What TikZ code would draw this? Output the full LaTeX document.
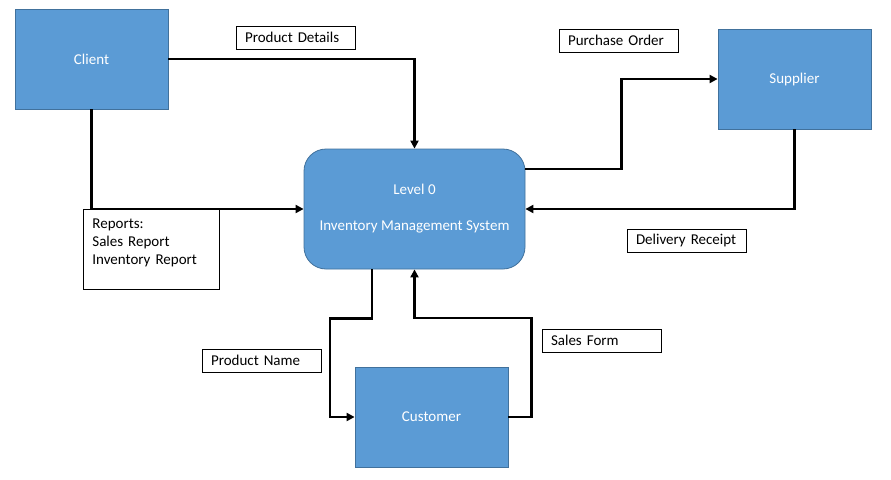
\documentclass[tikz,border=0pt]{standalone}
\usepackage{fontspec}
\setmainfont{Carlito}
\usetikzlibrary{arrows.meta,positioning}
\definecolor{boxblue}{HTML}{5B9BD5}
\definecolor{edgeblue}{HTML}{41719C}
\newcommand{\dfdfont}{\fontsize{15}{18}\selectfont}
\tikzset{entity/.style={draw=edgeblue,fill=boxblue,line width=0.8pt,
  minimum width=153pt,minimum height=100pt,text=white,font=\dfdfont},
  process/.style={entity,rounded corners=22pt,minimum width=221pt,
  minimum height=120pt,align=center},
  flowlabel/.style={draw=black,fill=white,line width=0.8pt,text width=101pt,
  inner xsep=9pt,minimum height=23pt,align=left,font=\dfdfont},
  flow/.style={-{Triangle[length=8pt,width=8pt]},line width=2.2pt}}

\begin{document}
\begin{tikzpicture}[x=1pt,y=-1pt]
\path[use as bounding box,fill=white] (0,0) rectangle (891,479);
\node[entity] (client) at (91.5,59) {Client};
\node[entity] (supplier) at (794.5,79) {Supplier};
\node[entity] (customer) at (431.5,417) {Customer};
\node[process] (level0) at (414.5,209) {Level 0\\[18pt]Inventory Management System};
\node[flowlabel] (pdetails) at (295.5,37.5) {Product Details};
\node[flowlabel] (porder) at (618.5,40.5) {Purchase Order};
\node[flowlabel] (dreceipt) at (686.5,240.5) {Delivery Receipt};
\node[flowlabel] (pname) at (261.5,360.5) {Product Name};
\node[flowlabel] (sform) at (601.5,340.5) {Sales Form};
\node[flowlabel,anchor=north west,text width=118pt,minimum height=80pt] (reports)
  at (83,209) {Reports:\\Sales Report\\Inventory Report\\[-2pt]~};
% data flows
\draw[flow] (client.east) -| (level0.north);
\draw[flow] (client.south) |- (level0.west);
\draw[flow] ([yshift=40pt]level0.east) -- ++(96,0) |- (supplier.west);
\draw[flow] (supplier.south) |- (level0.east);
\draw[flow] ([xshift=-42.5pt]level0.south) -- ++(0,49) -- ++(-42,0) |- (customer.west);
\draw[flow] (customer.east) -- ++(23,0) -- ++(0,-99) -| (level0.south);
\end{tikzpicture}
\end{document}
